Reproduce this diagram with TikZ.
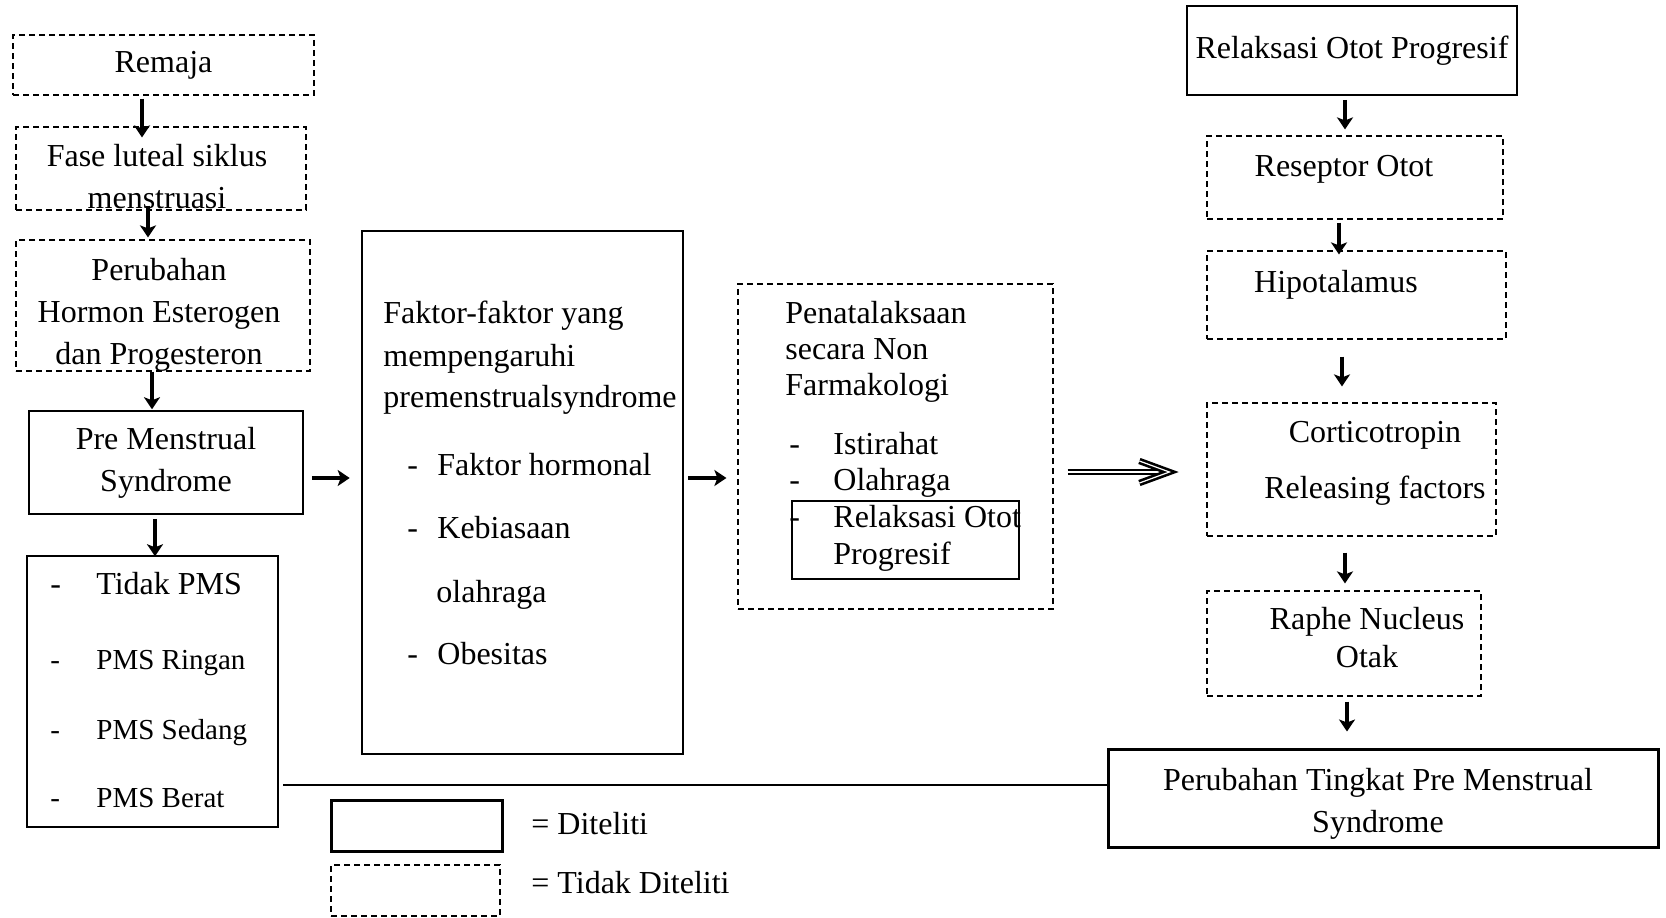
\documentclass[tikz,border=0pt]{standalone}
\usepackage{fontspec}
\setmainfont{Liberation Serif}
\usetikzlibrary{arrows.meta}

\tikzset{
  solidbox/.style={draw,line width=0.75pt,inner sep=0pt,align=center},
  dashbox/.style={draw,line width=0.6pt,dash pattern=on 3pt off 2pt,inner sep=0pt,align=center},
  thickbox/.style={draw,line width=1.5pt,inner sep=0pt,align=center},
  txt/.style={inner sep=0pt,anchor=base west},
  ctxt/.style={inner sep=0pt,anchor=base},
  arr/.style={line width=1.7pt,-{Stealth[length=6pt,width=8pt,inset=1.5pt]}},
  dblline/.style={double,double distance=0.6pt,line width=1.3pt,line join=miter},
}

\begin{document}
\begin{tikzpicture}[x=0.5pt,y=-0.5pt,font=\fontsize{16}{21}\selectfont]
\useasboundingbox (0,0) rectangle (1666,917);
% left column
\node[dashbox,minimum width=150.5pt,minimum height=30pt] (remaja) at (163.5,65) {Remaja};
\node[dashbox,minimum width=145pt,minimum height=41.5pt] (fase) at (161,168.5) {};
\node[align=center,inner sep=0pt] (faseText) at (157,177) {Fase luteal siklus\\menstruasi};
\node[dashbox,minimum width=147pt,minimum height=65.5pt] (hormon) at (163,305.5) {};
\node[align=center,inner sep=0pt] (hormonText) at (159,315) {Perubahan\\Hormon Esterogen\\dan Progesteron};
\node[solidbox,minimum width=137pt,minimum height=51.5pt] (pms) at (166,462.5) {Pre Menstrual\\Syndrome};
\node[solidbox,minimum width=125.5pt,minimum height=135.5pt] (kategori) at (152.5,691.5) {};
\foreach \ypos/\fsize/\entry [count=\i] in {594/16/Tidak PMS,669/14.5/PMS Ringan,739/14.5/PMS Sedang,807/14.5/PMS Berat} {
  \node[txt,font=\fontsize{\fsize}{18}\selectfont] (katDash\i) at (50,\ypos) {-};
  \node[txt,font=\fontsize{\fsize}{18}\selectfont] (kat\i) at (96,\ypos) {\entry};
}
% faktor box
\node[draw,line width=1.3pt,minimum width=160.5pt,minimum height=261.5pt] (faktor) at (522.5,492.5) {};
\foreach \ypos/\entry [count=\i] in {323/Faktor-faktor yang,366/mempengaruhi,407/premenstrualsyndrome}
  \node[txt] (faktorBaris\i) at (383,\ypos) {\entry};
\foreach \ypos/\entry [count=\i] in {475/Faktor hormonal,538/Kebiasaan,664/Obesitas} {
  \node[txt] (faktorDash\i) at (407,\ypos) {-};
  \node[txt] (faktorItem\i) at (437,\ypos) {\entry};
}
\node[txt] (faktorOlahraga) at (436,602) {olahraga};
% penatalaksanaan box
\node[dashbox,minimum width=157.5pt,minimum height=162.5pt] (penata) at (895.5,446.5) {};
\node[solidbox,minimum width=113.5pt,minimum height=39pt] (penataROP) at (905.5,540) {};
\foreach \ypos/\entry [count=\i] in {323/Penatalaksaan,359/secara Non,395/Farmakologi}
  \node[txt] (penataBaris\i) at (785,\ypos) {\entry};
\foreach \ypos/\entry [count=\i] in {454/Istirahat,490/Olahraga,527/Relaksasi Otot} {
  \node[txt] (penataDash\i) at (789,\ypos) {-};
  \node[txt] (penataItem\i) at (833,\ypos) {\entry};
}
\node[txt] (penataProgresif) at (833,564) {Progresif};
% right column
\node[solidbox,minimum width=165pt,minimum height=44.5pt] (relaksasi) at (1352,50.5) {Relaksasi Otot Progresif};
\node[dashbox,minimum width=148pt,minimum height=41.5pt] (reseptor) at (1355,177.5) {};
\node[ctxt] (reseptorText) at (1344,176) {Reseptor Otot};
\node[dashbox,minimum width=149.5pt,minimum height=44pt] (hipo) at (1356.5,295) {};
\node[ctxt] (hipoText) at (1336,292) {Hipotalamus};
\node[dashbox,minimum width=144.5pt,minimum height=66.5pt] (crf) at (1351.5,469.5) {};
\node[ctxt] (crfText1) at (1375,442) {Corticotropin};
\node[ctxt] (crfText2) at (1375,498) {Releasing factors};
\node[dashbox,minimum width=137pt,minimum height=52.5pt] (raphe) at (1344,643.5) {};
\node[align=center,inner sep=0pt,font=\fontsize{16}{19}\selectfont] (rapheText) at (1367,638) {Raphe Nucleus\\Otak};
\node[thickbox,minimum width=275pt,minimum height=49pt] (tingkat) at (1383,798) {};
\node[align=center,inner sep=0pt] (tingkatText) at (1378,803.5) {Perubahan Tingkat Pre Menstrual\\Syndrome};
% legend
\node[thickbox,minimum width=85.5pt,minimum height=25.5pt] (legDiteliti) at (416.5,825.5) {};
\node[dashbox,minimum width=84.5pt,minimum height=25.5pt] (legTidak) at (415.5,890.5) {};
\node[txt] (legDitelitiText) at (531,834) {= Diteliti};
\node[txt] (legTidakText) at (531,893) {= Tidak Diteliti};
% arrows
\draw[arr] ([xshift=-10.75pt,yshift=-1.5pt]remaja.south) -- ([xshift=-9.5pt,yshift=-5.5pt]fase.north);
\draw[arr] ([xshift=-6.5pt,yshift=2.5pt]fase.south) -- ([xshift=-7.5pt,yshift=1pt]hormon.north);
\draw[arr] ([xshift=-5.5pt]hormon.south) -- ([xshift=-7pt,yshift=0.5pt]pms.north);
\draw[arr] ([xshift=-5.5pt,yshift=-2pt]pms.south) -- ([xshift=1.25pt,yshift=-0.5pt]kategori.north);
\draw[arr] ([xshift=4pt,yshift=-7.75pt]pms.east) -- ([xshift=-5.5pt,yshift=7.25pt]faktor.west);
\draw[arr] ([xshift=2pt,yshift=7.25pt]faktor.east) -- ([xshift=-5.5pt,yshift=-15.75pt]penata.west);
\coordinate (ujungPanah) at ([xshift=-18.5pt,yshift=-1.25pt]crf.west);
\draw[dblline,shorten >=1.5pt] ([xshift=7pt,yshift=-12.75pt]penata.east) -- (ujungPanah);
\draw[dblline] ([xshift=-15pt,yshift=5.5pt]ujungPanah) -- (ujungPanah) -- ([xshift=-15pt,yshift=-5.5pt]ujungPanah);
\draw[arr] ([xshift=-3.5pt,yshift=-2pt]relaksasi.south) -- ([xshift=-5pt,yshift=3pt]reseptor.north);
\draw[arr] ([xshift=-8pt,yshift=-1.5pt]reseptor.south) -- ([xshift=-8.75pt,yshift=-2pt]hipo.north);
\draw[arr] ([xshift=-7.25pt,yshift=-8.5pt]hipo.south) -- ([xshift=-4.75pt,yshift=8pt]crf.north);
\draw[arr] ([xshift=-3.25pt,yshift=-8pt]crf.south) -- ([xshift=0.5pt,yshift=3.5pt]raphe.north);
\draw[arr] ([xshift=1.5pt,yshift=-2.5pt]raphe.south) -- ([xshift=-18pt,yshift=8pt]tingkat.north);
% connecting line
\coordinate (garisAwal) at (283,785);
\draw[line width=0.6pt] (garisAwal) -- (garisAwal -| tingkat.west);
\end{tikzpicture}
\end{document}
